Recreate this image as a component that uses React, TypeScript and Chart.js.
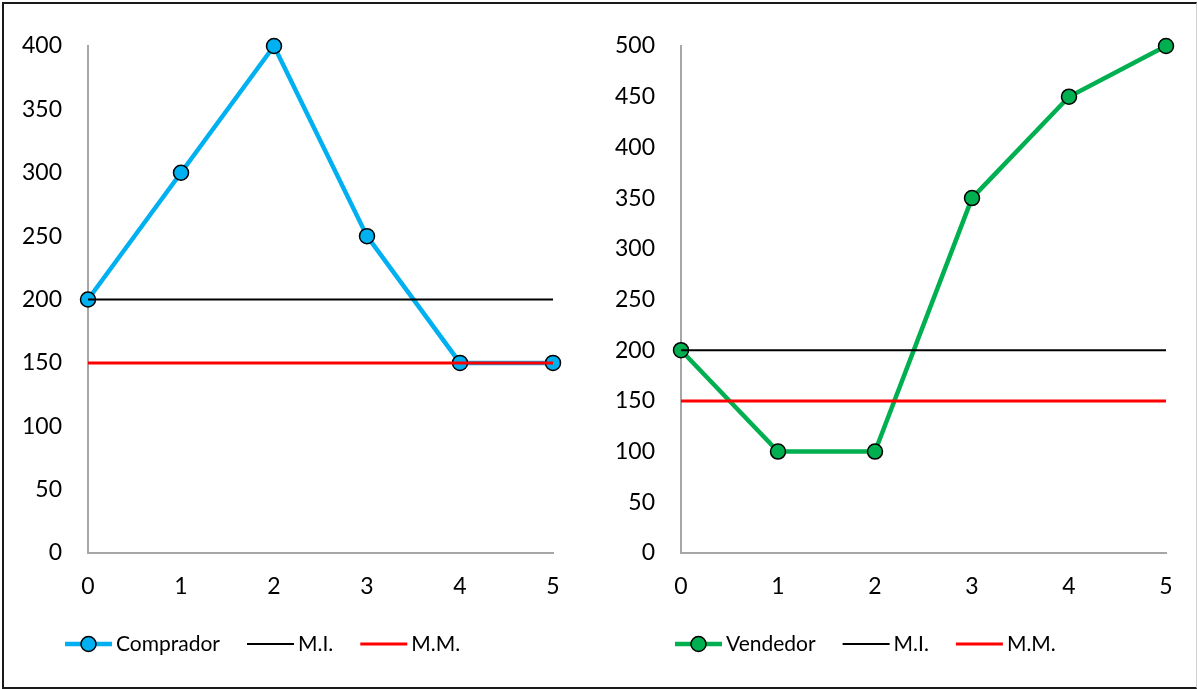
import React, { useEffect, useRef } from "react";
import { Chart, registerables } from "chart.js";

Chart.register(...registerables);

const xLabels = ["0", "1", "2", "3", "4", "5"];
const compradorValues = [200, 300, 400, 250, 150, 150];
const miComprador = [200, 200, 200, 200, 200, 200];
const mmComprador = [150, 150, 150, 150, 150, 150];
const vendedorValues = [200, 100, 100, 350, 450, 500];
const miVendedor = [200, 200, 200, 200, 200, 200];
const mmVendedor = [150, 150, 150, 150, 150, 150];

const FONT = "Lato";
const FONT_SIZE = 23;
const LEGEND_FONT_SIZE = 21;

const legendPlugin = {
  id: "customLegend",
  afterDraw(chart: any, _args: any, opts: any) {
    const ctx = chart.ctx;
    ctx.save();
    let x = opts.startX;
    const y = opts.y;
    ctx.font = `${LEGEND_FONT_SIZE}px ${FONT}`;
    ctx.textBaseline = "middle";
    ctx.textAlign = "left";
    chart.data.datasets.forEach((ds: any) => {
      ctx.beginPath();
      ctx.lineCap = "butt";
      ctx.strokeStyle = ds.borderColor;
      ctx.lineWidth = ds.borderWidth;
      ctx.moveTo(x, y);
      ctx.lineTo(x + 47, y);
      ctx.stroke();
      if (ds.pointRadius > 0) {
        ctx.beginPath();
        ctx.arc(x + 23.5, y, ds.pointRadius, 0, Math.PI * 2);
        ctx.fillStyle = ds.pointBackgroundColor;
        ctx.fill();
        ctx.lineWidth = ds.pointBorderWidth;
        ctx.strokeStyle = ds.pointBorderColor;
        ctx.stroke();
      }
      x += 47 + 4;
      ctx.fillStyle = "#000";
      ctx.fillText(ds.label, x, y);
      x += ctx.measureText(ds.label).width + 27;
    });
    ctx.restore();
  },
};

function makeConfig(
  seriesLabel: string,
  seriesValues: number[],
  seriesColor: string,
  miValues: number[],
  mmValues: number[],
  yMax: number,
  yAxisWidth: number,
  padRight: number,
  legendStartX: number
): any {
  return {
    type: "line",
    data: {
      labels: xLabels,
      datasets: [
        {
          label: seriesLabel,
          data: seriesValues,
          borderColor: seriesColor,
          backgroundColor: seriesColor,
          borderWidth: 4.5,
          pointRadius: 7.5,
          pointBackgroundColor: seriesColor,
          pointBorderColor: "#000",
          pointBorderWidth: 1.5,
          tension: 0,
          clip: false,
          order: 3,
        },
        {
          label: "M.I.",
          data: miValues,
          borderColor: "#000",
          borderWidth: 2,
          pointRadius: 0,
          clip: false,
          order: 2,
        },
        {
          label: "M.M.",
          data: mmValues,
          borderColor: "#ff0000",
          borderWidth: 3,
          pointRadius: 0,
          clip: false,
          order: 1,
        },
      ],
    },
    options: {
      animation: false,
      responsive: false,
      maintainAspectRatio: false,
      layout: { padding: { left: 0, right: padRight, top: 46, bottom: 76 } },
      plugins: {
        legend: { display: false },
        tooltip: { enabled: false },
        customLegend: { startX: legendStartX, y: 644 },
      },
      scales: {
        x: {
          type: "category",
          offset: false,
          grid: { display: false, drawTicks: false },
          border: { display: true, color: "#a6a6a6", width: 2 },
          ticks: {
            color: "#000",
            font: { family: FONT, size: FONT_SIZE },
            padding: 20,
            maxRotation: 0,
            autoSkip: false,
          },
          afterFit(scale: any) {
            scale.height = 60;
          },
        },
        y: {
          min: 0,
          max: yMax,
          grid: { display: false, drawTicks: false },
          border: { display: true, color: "#a6a6a6", width: 2 },
          ticks: {
            stepSize: 50,
            color: "#000",
            font: { family: FONT, size: FONT_SIZE },
            padding: 26,
          },
          afterFit(scale: any) {
            scale.width = yAxisWidth;
          },
        },
      },
    },
    plugins: [legendPlugin],
  };
}

export default function App() {
  const leftRef = useRef<HTMLCanvasElement>(null);
  const rightRef = useRef<HTMLCanvasElement>(null);

  useEffect(() => {
    const left = new Chart(
      leftRef.current as HTMLCanvasElement,
      makeConfig("Comprador", compradorValues, "#00b0f0", miComprador, mmComprador, 400, 88, 45, 65)
    );
    const right = new Chart(
      rightRef.current as HTMLCanvasElement,
      makeConfig("Vendedor", vendedorValues, "#00b050", miVendedor, mmVendedor, 500, 83, 31, 77)
    );
    return () => {
      left.destroy();
      right.destroy();
    };
  }, []);

  return (
    <div style={{ position: "fixed", left: 0, top: 0, width: 1197, height: 689, background: "#fff" }}>
      <div style={{ position: "absolute", left: 0, top: 0, width: 598, height: 689 }}>
        <canvas ref={leftRef} width={598} height={689} style={{ width: 598, height: 689, display: "block" }} />
      </div>
      <div style={{ position: "absolute", left: 598, top: 0, width: 599, height: 689 }}>
        <canvas ref={rightRef} width={599} height={689} style={{ width: 599, height: 689, display: "block" }} />
      </div>
      <div
        style={{
          position: "absolute",
          left: 2,
          top: 2,
          width: 1195,
          height: 687,
          boxSizing: "border-box",
          borderTop: "2px solid #1a1a1a",
          borderLeft: "2px solid #1a1a1a",
          borderBottom: "2px solid #1a1a1a",
          borderRight: "1px solid #d0d0d0",
          pointerEvents: "none",
        }}
      />
    </div>
  );
}
